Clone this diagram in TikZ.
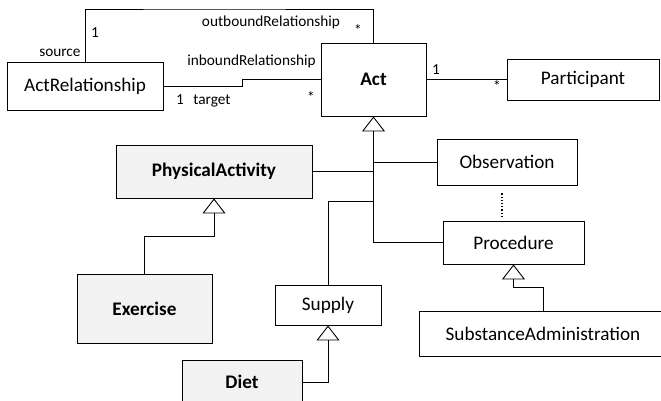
\documentclass[tikz,border=0pt]{standalone}
\usepackage{fontspec}
\setmainfont{Carlito}
\usetikzlibrary{arrows.meta}
\tikzset{
  cls/.style={draw, line width=0.9pt, rectangle, inner sep=0pt, font=\fontsize{19.2}{21}\selectfont},
  abox/.style={cls, fill=black!5, font=\fontsize{19.2}{21}\selectfont\bfseries},
  lbl/.style={inner sep=0pt, font=\fontsize{15.3}{17}\selectfont},
  gen/.style={-{Triangle[open, length=15pt, width=23pt]}},
}
\begin{document}
\begin{tikzpicture}[x=1pt, y=-1pt, line width=0.9pt]
\useasboundingbox (0,0) rectangle (661,400);
\clip (0,0) rectangle (661,400);
\node[cls, minimum width=156, minimum height=48] (actrel) at (85,86){ActRelationship};
\node[cls, font=\fontsize{19.2}{21}\selectfont\bfseries, minimum width=105, minimum height=73] (act) at (373.5,79.5){Act};
\node[cls, minimum width=152, minimum height=41] (part) at (583,79.5){Participant};
\node[abox, minimum width=196, minimum height=53] (physact) at (214,171.5){PhysicalActivity};
\node[cls, minimum width=140, minimum height=46] (obs) at (507,162){Observation};
\node[cls, minimum width=141, minimum height=43] (proc) at (513.5,242.5){Procedure};
\node[abox, minimum width=135, minimum height=69] (exer) at (144.5,308.5){Exercise};
\node[cls, minimum width=106, minimum height=40] (supply) at (328,305){Supply};
\node[cls, minimum width=248, minimum height=45] (subst) at (543,333.5){SubstanceAdministration};
\node[abox, minimum width=120, minimum height=44] (diet) at (242,382){Diet};
% associations
\coordinate (outtop) at (200,9);
\coordinate (instep) at (242,86);
\draw[](actrel.north) |- (outtop) -| (act.north);
\draw[](actrel.east) -- (instep) |- (act.west);
\draw[](act.east) -- (part.west);
% association labels
\node[lbl, anchor=east] (srclbl) at (81,53){source};
\node[lbl] (srcmult) at (95,33){1};
\node[lbl] (outlbl) at (271,22){outboundRelationship};
\node[lbl] (outmult) at (358,30){*};
\node[lbl] (inlbl) at (251.5,61){inboundRelationship};
\node[lbl] (inmult) at (311,97){*};
\node[lbl] (tgtmult) at (180,100){1};
\node[lbl] (tgtlbl) at (212,101){target};
\node[lbl] (actmult) at (436,70){1};
\node[lbl] (partmult) at (497,86){*};
% generalizations
\coordinate (supjoin) at (373.5,201);
\coordinate (exbend) at (214,236);
\coordinate (subbend) at (513.5,287);
\draw[gen](proc.west) -| (act.south);
\draw[](obs.west) -- (obs.west -| act.south);
\draw[](physact.east) -- (physact.east -| act.south);
\draw[](supply.north) |- (supjoin);
\draw[gen](exer.north) |- (exbend) -- (physact.south);
\draw[gen](subst.north) |- (subbend) -- (proc.south);
\draw[gen](diet.east) -| (supply.south);
\draw[dotted, line width=1.2pt, shorten <=8pt, shorten >=3pt]([xshift=-5pt]obs.south) -- ([xshift=-5pt]obs.south |- proc.north);
\end{tikzpicture}
\end{document}
